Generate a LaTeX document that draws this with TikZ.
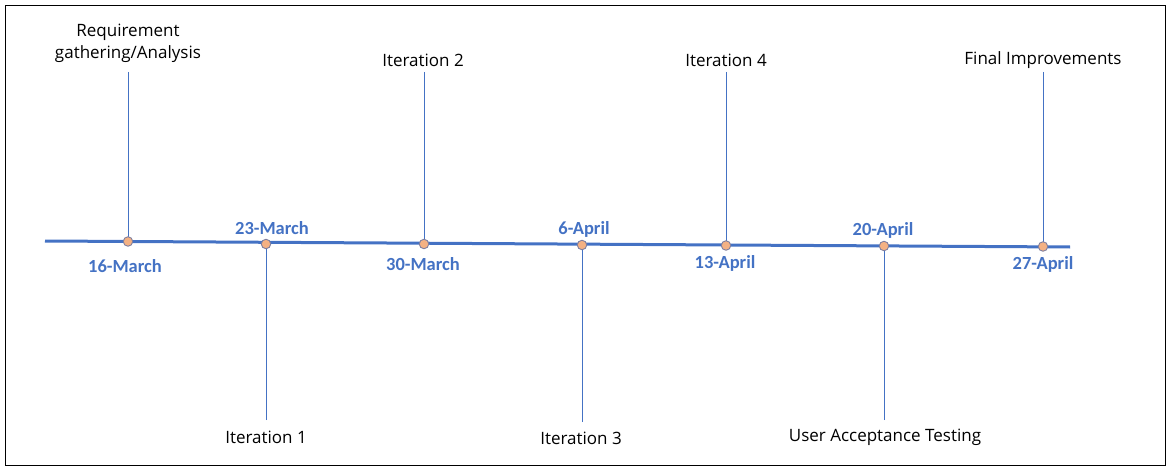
\documentclass[tikz,border=0pt]{standalone}
\usepackage{fontspec}
\setmainfont{Open Sans}
\newfontfamily\datefont{Carlito}
\definecolor{tlblue}{HTML}{4472C4}
\definecolor{dotfill}{HTML}{F4B183}
\definecolor{dotedge}{HTML}{7F7F9F}
\begin{document}
\begin{tikzpicture}[x=1pt,y=-1pt,
  dot/.style={circle,fill=dotfill,draw=dotedge,line width=0.9pt,inner sep=0pt,minimum size=9.5pt},
  stem/.style={draw=tlblue,line width=1pt},
  evlabel/.style={font=\fontsize{17}{21.5}\selectfont,text=black,inner sep=0pt,align=center},
  datelabel/.style={font=\datefont\bfseries\fontsize{18.5}{21}\selectfont,text=tlblue,inner sep=0pt}]
\useasboundingbox (0,0) rectangle (1172,473);
\draw[black,line width=1pt] (5,5.5) rectangle (1165.5,465.5);
% timeline
\coordinate (ls) at (45,241);
\coordinate (le) at (1070,247);
\draw[tlblue,line width=3pt] (ls) -- (le);
% stem ends
\coordinate (t1) at (128,72);
\coordinate (b2) at (266,420);
\coordinate (t3) at (424,72);
\coordinate (b4) at (582,422);
\coordinate (t5) at (726,72);
\coordinate (b6) at (884,420);
\coordinate (t7) at (1043,72);
% dots positions
\coordinate (p1) at (128,241.5);
\coordinate (p2) at (266,244);
\coordinate (p3) at (424,244);
\coordinate (p4) at (582,245);
\coordinate (p5) at (726,245.5);
\coordinate (p6) at (884,246);
\coordinate (p7) at (1043,246.5);
\draw[stem] (t1) -- (p1);
\draw[stem] (b2) -- (p2);
\draw[stem] (t3) -- (p3);
\draw[stem] (b4) -- (p4);
\draw[stem] (t5) -- (p5);
\draw[stem] (b6) -- (p6);
\draw[stem] (t7) -- (p7);
\node[dot] (d1) at (p1) {};
\node[dot] (d2) at (p2) {};
\node[dot] (d3) at (p3) {};
\node[dot] (d4) at (p4) {};
\node[dot] (d5) at (p5) {};
\node[dot] (d6) at (p6) {};
\node[dot] (d7) at (p7) {};
% event labels
\node[evlabel] (e1) at (128,43.5) {Requirement\\gathering/Analysis};
\node[evlabel] (e2) at (266,437.5) {Iteration 1};
\node[evlabel] (e3) at (423,60.5) {Iteration 2};
\node[evlabel] (e4) at (581,438.5) {Iteration 3};
\node[evlabel] (e5) at (726,60.5) {Iteration 4};
\node[evlabel] (e6) at (885,437.5) {User Acceptance Testing};
\node[evlabel] (e7) at (1043,60.5) {Final Improvements};
% date labels
\node[datelabel] (l1) at (125,266) {16-March};
\node[datelabel] (l2) at (272,228) {23-March};
\node[datelabel] (l3) at (423,264) {30-March};
\node[datelabel] (l4) at (584,229) {6-April};
\node[datelabel] (l5) at (725,263) {13-April};
\node[datelabel] (l6) at (883,230) {20-April};
\node[datelabel] (l7) at (1043,264) {27-April};
\end{tikzpicture}
\end{document}
